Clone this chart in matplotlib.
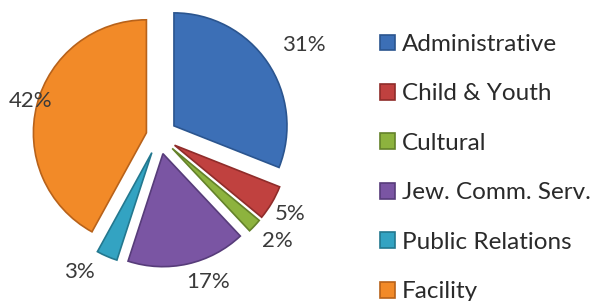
import numpy as np
import matplotlib
matplotlib.use("Agg")
import matplotlib.pyplot as plt

plt.rcParams['font.family'] = ['Lato', 'DejaVu Sans']

categories = ['Administrative', 'Child & Youth', 'Cultural',
              'Jew. Comm. Serv.', 'Public Relations', 'Facility']
shares = [31, 5, 2, 17, 3, 42]
pct_labels = ['31%', '5%', '2%', '17%', '3%', '42%']
colors = ['#3c6fb6', '#c0413f', '#8db33e', '#7a55a3', '#33a3c2', '#f28a28']
edges = ['#2b558f', '#8f2c2a', '#64822a', '#573c7a', '#23788f', '#b8621a']

# label placement: radius and angle tweak relative to wedge middle
label_r = [1.51, 1.35, 1.40, 1.36, 1.40, 1.18]
label_dtheta = [-2, 0, 1.5, 6, -7, -1]

fig = plt.figure(figsize=(5.95, 3.01), dpi=100)
ax = fig.add_axes([0, 0, 330 / 595, 1])

wedges, _ = ax.pie(shares, colors=colors, startangle=90, counterclock=False,
                   explode=[0.16, 0.16, 0.16, 0.16, 0.16, 0.115],
                   wedgeprops=dict(linewidth=1.2))
for w, ec in zip(wedges, edges):
    w.set_edgecolor(ec)

for w, lab, r, dt in zip(wedges, pct_labels, label_r, label_dtheta):
    mid = np.deg2rad((w.theta1 + w.theta2) / 2 + dt)
    ax.text(r * np.cos(mid), r * np.sin(mid), lab, ha='center', va='center',
            fontsize=16, color='#3a3a3a')

ax.set_xlim(-1.407, 1.513)
ax.set_ylim(-1.460, 1.204)
ax.set_aspect('auto')
ax.axis('off')

leg = fig.legend(wedges, categories, loc='upper left',
                 bbox_to_anchor=(380 / 595, 1 - 34 / 301),
                 frameon=False, fontsize=17.5, labelcolor='#2a2a2a',
                 handlelength=0.62, handleheight=0.62, handletextpad=0.28,
                 labelspacing=1.17, borderaxespad=0, borderpad=0)

fig.savefig('out.png', dpi=100)
